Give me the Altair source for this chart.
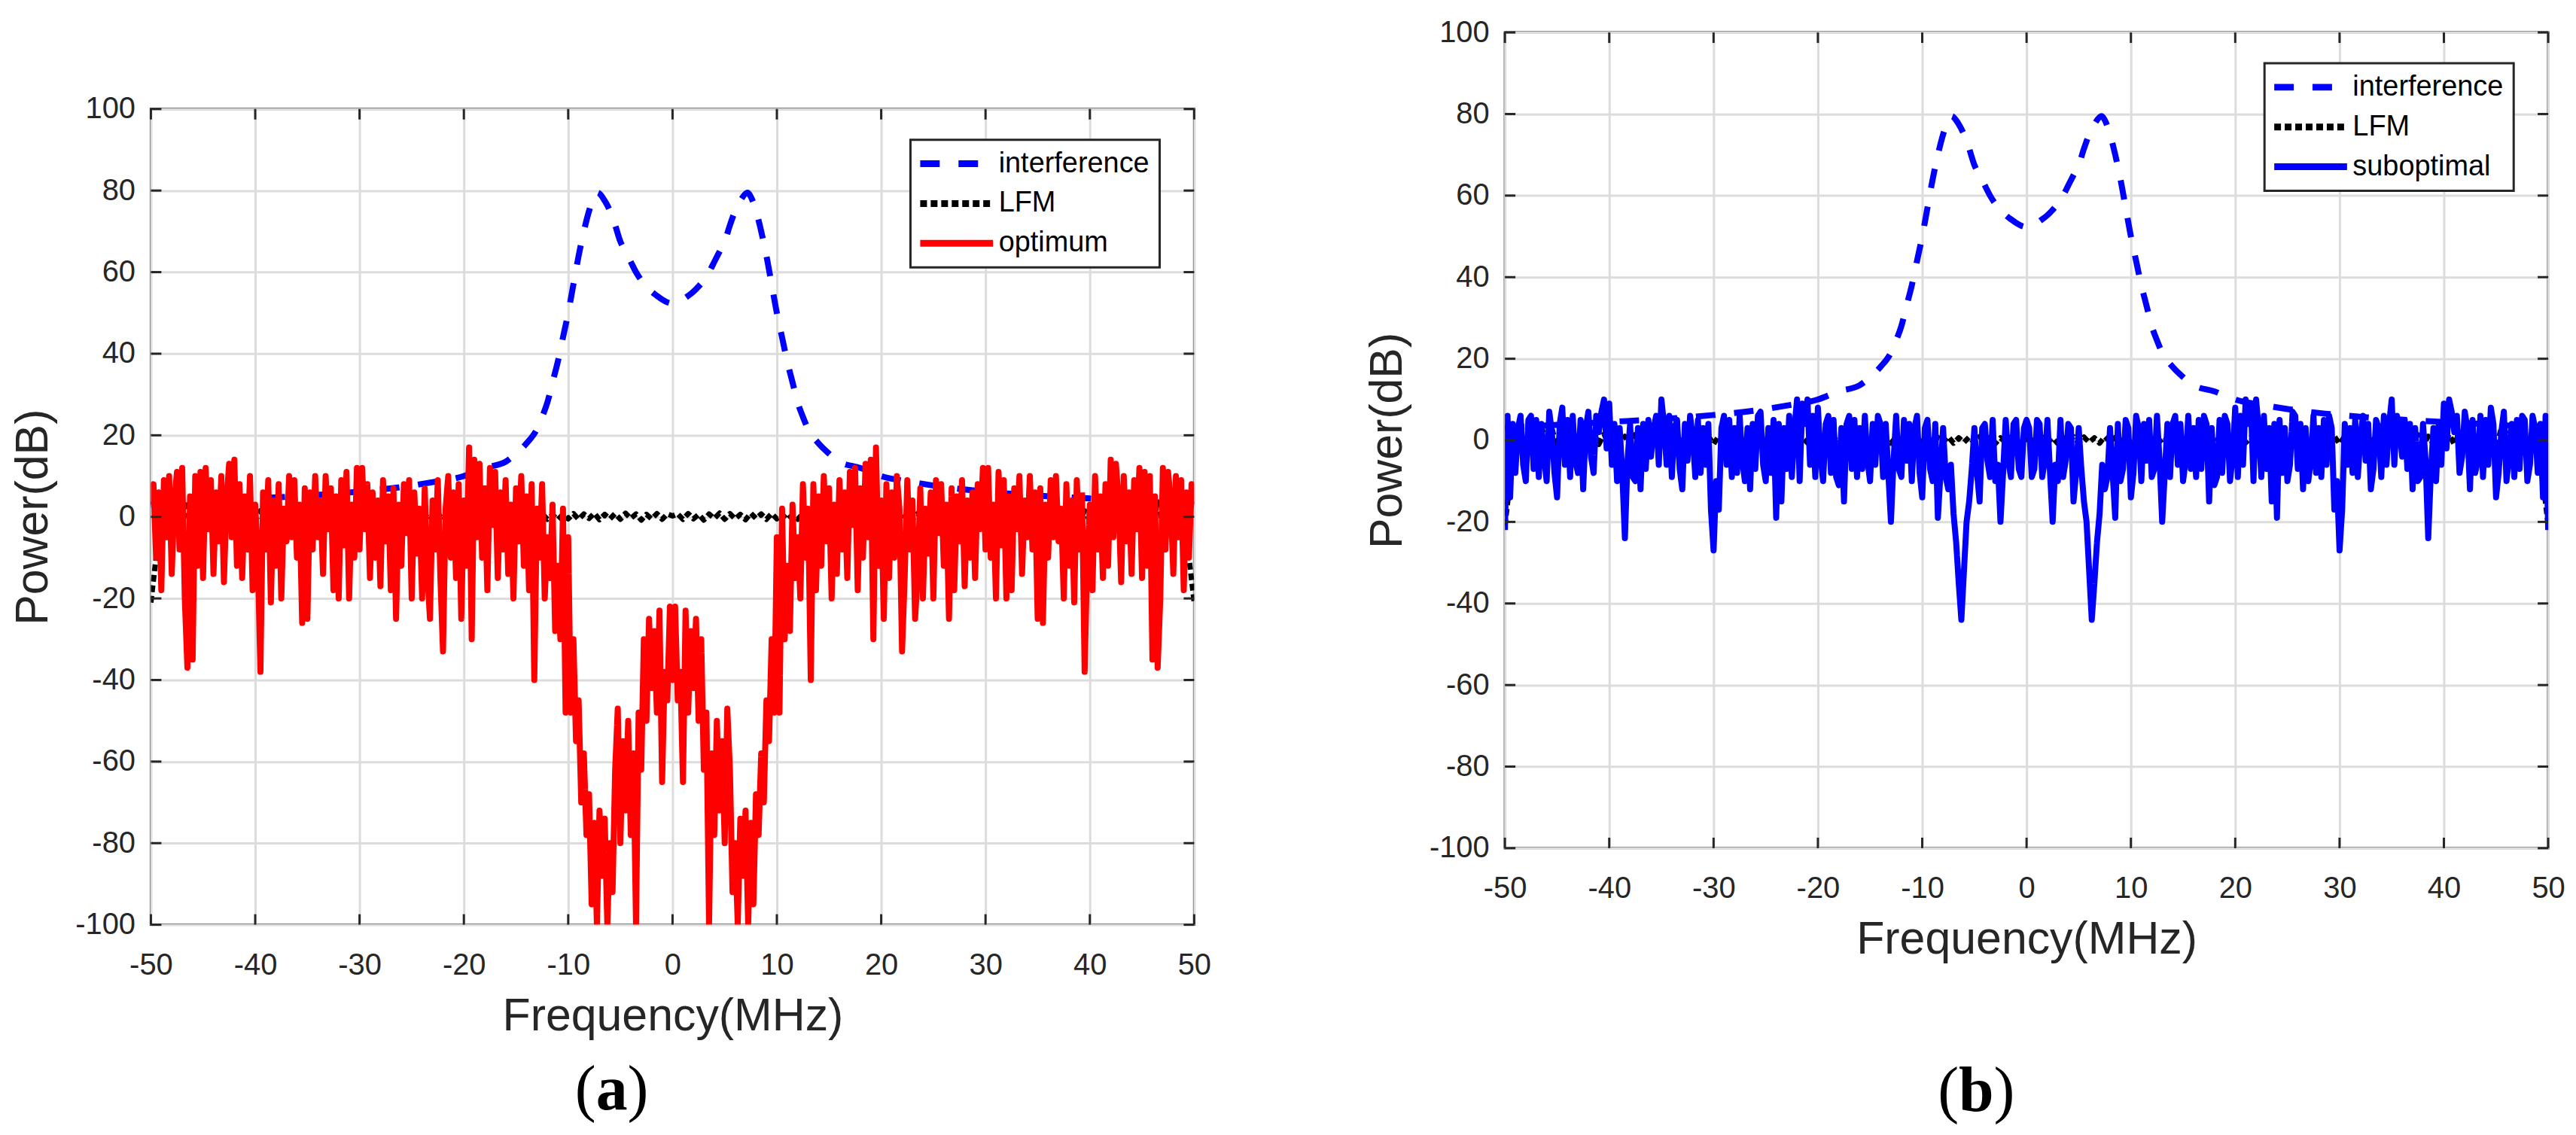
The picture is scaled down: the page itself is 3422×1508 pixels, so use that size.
import altair as alt
import pandas as pd

W, H = 1390, 1087
AX = "#262626"
GRID = "#dcdcdc"
SANS = "Liberation Sans"
SERIF = "Liberation Serif"
NEG = "datum.value < 0 ? '-' + (-datum.value) : '' + datum.value"

x_ticks = [-50, -40, -30, -20, -10, 0, 10, 20, 30, 40, 50]
y_ticks = [-100, -80, -60, -40, -20, 0, 20, 40, 60, 80, 100]

names_a = ["interference", "LFM", "optimum"]
names_b = ["interference", "LFM", "suboptimal"]
colors_a = ["#0000ff", "#000000", "#ff0000"]
colors_b = ["#0000ff", "#000000", "#0000ff"]
dashes = [[26, 25], [9, 5], [1, 0]]

# interference (smooth two-peak curve), read at irregular frequencies
interference_freq = [-50, -45, -40, -35, -30, -26, -23, -20, -18, -16,
                     -15, -14, -13, -12.5, -12, -11.5, -11, -10.5, -10, -9.5,
                     -9, -8.5, -8, -7.5, -7.2, -6.5, -6, -5.5, -5, -4.5,
                     -4, -3.5, -3, -2.5, -2, -1.5, -1, -0.5, 0,
                     0.5, 1, 1.5, 2, 2.5, 3, 3.5, 4,
                     4.5, 5, 5.5, 6, 6.5, 7.2, 7.5, 8, 8.5, 9,
                     9.5, 10, 10.5, 11, 11.5, 12, 12.5, 13, 14, 15,
                     16, 18, 20, 23, 26, 30, 35, 40, 45, 50]
interference_db = [3.0, 3.8, 4.5, 5.2, 6.2, 7.3, 8.5, 10.0, 12.0, 13.5,
                   15.5, 18.0, 21.5, 24.5, 28.0, 33.0, 38.0, 44.0, 50.0, 57.0,
                   64.0, 70.0, 75.0, 78.5, 79.5, 77.5, 75.0, 71.5, 67.5, 65.0,
                   62.5, 60.0, 58.0, 56.5, 55.2, 54.2, 53.3, 52.6, 52.3,
                   52.6, 53.3, 54.2, 55.2, 56.5, 58.0, 60.0, 62.5,
                   65.0, 67.5, 71.5, 75.0, 77.5, 79.5, 78.5, 75.0, 70.0, 64.0,
                   57.0, 50.0, 44.0, 38.0, 33.0, 28.0, 24.5, 21.5, 18.0, 15.5,
                   13.5, 12.0, 10.0, 8.5, 7.3, 6.2, 5.2, 4.5, 3.8, 3.0]

# LFM spectrum, every 0.5 MHz from -50 to 50
lfm_freq = [round(-50 + 0.5 * i, 2) for i in range(201)]
lfm_db = [
    -21, -10, -4, 2, -3, 3, -2, 4, -3, 3, -2, 3, -2, 2.5, -1.5, 2, -1.5, 2, -1, 1.5,
    -1, 1.5, -1, 1, -1.2, 1.4, -0.8, 1, -1, 1.2, -0.9, 1, -1, 1.1, -0.8, 1, -1, 0.9, -0.7, 1,
    -0.9, 1, -0.8, 0.9, -0.7, 1, -0.9, 0.8, -0.6, 0.9, -0.8, 1, -0.7, 0.8, -0.6, 0.9, -0.8, 0.7, -0.6, 0.8,
    -0.7, 0.9, -0.6, 0.8, -0.7, 0.6, -0.8, 0.7, -0.5, 0.8, -0.6, 0.7, -0.5, 0.6, -0.7, 0.8, -0.6, 0.5, -0.7, 0.6,
    -0.5, 0.8, -0.6, 0.7, -0.4, 0.9, -0.7, 0.6, -0.5, 0.8, -0.6, 0.9, -0.4, 0.7, -0.8, 0.6, -0.5, 0.8, -0.6, 0.7,
    0.2,
    0.7, -0.6, 0.8, -0.5, 0.6, -0.8, 0.7, -0.4, 0.9, -0.6, 0.8, -0.5, 0.6, -0.7, 0.9, -0.4, 0.7, -0.6, 0.8, -0.5,
    0.6, -0.7, 0.5, -0.6, 0.8, -0.7, 0.6, -0.5, 0.7, -0.6, 0.8, -0.5, 0.7, -0.8, 0.6, -0.7, 0.8, -0.6, 0.9, -0.7,
    0.8, -0.6, 0.7, -0.8, 0.9, -0.6, 0.8, -0.7, 1, -0.8, 0.9, -0.6, 0.8, -0.9, 1, -0.7, 0.9, -0.8, 1, -0.9,
    1, -0.7, 0.9, -1, 1, -0.8, 1.1, -1, 1, -0.9, 1.2, -1, 1, -0.8, 1.4, -1.2, 1, -1, 1.5, -1,
    1.5, -1, 2, -1.5, 2, -1.5, 2.5, -2, 3, -2, 3, -3, 4, -2, 3, -3, 2, -4, -10, -21,
]

# filtered outputs, every 0.25 MHz from -50 to 50
grid_freq = [round(-50 + 0.25 * i, 2) for i in range(401)]
optimum_db = [
    3, 8, -10, 6, -18, 9, -5, 10, -14, 4, 11, -8, 12, -20, -37, 5, -35, 10, -12, 11,
    -15, 12, -3, 9, -14, 6, -6, 10, -16, 4, 13, -5, 14, -12, 8, -15, 5, -8, 10, -18,
    3, -10, -38, 6, -8, 9, -21, 4, -12, 8, -20, 2, -6, 10, -5, 9, -10, 3, -26, 7,
    -25, 6, -8, 10, -5, 4, -14, 10, -3, 7, -18, 5, -20, 9, -7, 11, -20, 3, -10, 12,
    -8, 12, -3, 8, -15, 6, -10, 4, -17, 9, -6, 5, -18, 7, -25, 3, -12, 8, -4, 9,
    -20, 6, -9, 2, -20, 7, -14, -25, 4, -8, 9, -15, -33, 2, 10, -10, 6, -15, 8, -25,
    4, -12, 17, -30, 14, -5, 13, -10, 7, -18, 12, -2, 11, -15, 6, -8, 9, -14, 3, -20,
    7, -6, 10, -12, 5, -18, 8, -40, 2, -10, 8, -20, -5, -15, 3, -28, -12, -30, 2, -48,
    -5, -48, -30, -55, -45, -70, -58, -78, -68, -95, -75, -100, -72, -88, -74, -100, -80, -92, -62, -47,
    -80, -55, -72, -50, -78, -58, -100, -48, -62, -30, -50, -25, -42, -28, -48, -23, -65, -38, -45, -22,
    -40,
    -22, -45, -38, -65, -23, -48, -28, -42, -25, -50, -30, -62, -48, -100, -58, -78, -50, -72, -55, -80,
    -47, -62, -92, -80, -100, -74, -88, -72, -100, -75, -95, -68, -78, -58, -70, -45, -55, -30, -48, -5,
    -48, 2, -30, -12, -28, 3, -15, -5, -20, 8, -10, 2, -40, 8, -18, 5, -12, 10, -6, 7,
    -20, 3, -14, 9, -8, 6, -15, 11, -2, 12, -18, 7, -10, 13, -5, 14, -30, 17, -12, 4,
    -25, 8, -15, 6, -10, 10, 2, -33, -15, 9, -8, 4, -25, -14, 7, -20, 2, -9, 6, -20,
    9, -4, 8, -12, 3, -25, 7, -18, 5, -6, 9, -17, 4, -10, 6, -15, 8, -3, 12, -8,
    12, -10, 3, -20, 11, -7, 9, -20, 5, -18, 7, -3, 10, -14, 4, -5, 10, -8, 6, -25,
    7, -26, 3, -10, 9, -5, 10, -6, 2, -20, 8, -12, 4, -21, 9, -8, 6, -38, -10, 3,
    -18, 10, -8, 5, -15, 8, -12, 14, -5, 13, 4, -16, 10, -6, 6, -14, 9, -3, 12, -15,
    11, -12, 10, -35, 5, -37, -20, 12, -8, 11, 4, -14, 10, -5, 9, -18, 6, -10, 8, 3,
]
suboptimal_db = [
    -22, 6, -14, 4, -8, 3, 6, -6, -10, 5, 6, -7, 5, -9, 4, -4, -10, 7, 2, -8,
    -14, 4, 8, -6, 5, -9, 6, -5, -8, 5, -12, 3, 7, -4, -8, 6, 2, 7, 10, -2,
    9, -6, 4, -10, 3, -8, -24, -5, 4, -9, -10, 3, -12, 4, -7, 5, -4, 3, 6, -6,
    10, 4, -6, 6, -9, 3, 5, -7, -12, 4, -5, 6, 1, -9, 5, -8, 3, -6, 4, -17,
    -27, -10, -17, 3, 6, -6, 5, -9, 3, -8, 6, -5, -10, 3, -12, 4, -7, 6, 7, -6,
    -10, 3, -8, 5, -19, 4, -15, 3, -7, 6, -9, 3, 10, -10, 9, 4, 10, -6, 6, -9,
    8, -4, -10, 4, 6, -8, 5, -9, -11, 3, -15, 4, 6, -7, 5, -9, 3, -7, 6, -5,
    -10, 4, -6, 6, 4, -9, 4, -8, -20, -5, 6, -7, -9, 5, -5, 4, -10, 3, 6, -8,
    -14, 3, 5, -7, -10, 4, -19, -8, 3, -9, -12, -6, -18, -25, -35, -44, -32, -20, -15, -7,
    3, -8, -15, 3, 4, -5, -9, 5, -10, -6, -20, -8, 5, -5, -9, 4, 5, -7, -9, 3,
    5,
    3, -9, -7, 5, 4, -9, -5, 5, -8, -20, -6, -10, 5, -9, -5, 4, 3, -15, -8, 3,
    -7, -15, -20, -32, -44, -35, -25, -18, -6, -12, -9, 3, -8, -19, 4, -10, -7, 5, 3, -14,
    -8, 6, 3, -10, 4, -5, 5, -9, -7, 6, -5, -20, -8, 4, -9, 4, 6, -6, 4, -10,
    -5, 6, -7, 3, -9, 5, -7, 6, 4, -15, 3, -11, -9, 5, -8, 6, 4, -10, -4, 8,
    -9, 6, -6, 10, 4, 9, -10, 10, 3, -9, 6, -7, 3, -15, 4, -19, 5, -8, 3, -10,
    -6, 7, 6, -7, 4, -12, 3, -10, -5, 6, -8, 3, -9, 5, -6, 6, 3, -17, -10, -27,
    -17, 4, -6, 3, -8, 5, -9, 1, 6, -5, 4, -12, -7, 5, 3, -9, 6, -6, 4, 10,
    -6, 6, 3, -4, 5, -7, 4, -12, 3, -10, -9, 4, -5, -24, -8, 3, -10, 4, -6, 9,
    -2, 10, 7, 2, 6, -8, -4, 7, 3, -12, 5, -8, -5, 6, -9, 5, -6, 8, 4, -14,
    -8, 2, 7, -10, -4, 4, -9, 5, -7, 6, 5, -10, -6, 6, 3, -8, 4, -14, 6, -22,
]


def make_panel(names, colors, main_db, main_width, letter, letter_adv, cap_cx, cap_y):
    xs = alt.Scale(domain=[-50, 50], nice=False, zero=False)
    ys = alt.Scale(domain=[-100, 100], nice=False, zero=False)
    x_axis = alt.Axis(values=x_ticks, title="Frequency(MHz)", titleFont=SANS,
                      titleFontSize=61, titleFontWeight="normal", titleColor=AX,
                      titlePadding=18, labelFont=SANS, labelFontSize=40,
                      labelColor=AX, labelPadding=34, labelFlush=False,
                      labelOverlap=False, labelExpr=NEG, ticks=False, tickSize=0,
                      domain=False, grid=True, gridColor=GRID, gridWidth=3)
    y_axis = alt.Axis(values=y_ticks, title="Power(dB)", titleFont=SANS,
                      titleFontSize=61, titleFontWeight="normal", titleColor=AX,
                      titlePadding=24, labelFont=SANS, labelFontSize=40,
                      labelColor=AX, labelPadding=21, labelFlush=False,
                      labelOverlap=False, labelExpr=NEG, ticks=False, tickSize=0,
                      domain=False, grid=True, gridColor=GRID, gridWidth=3)
    xenc = alt.X("f:Q", scale=xs, axis=x_axis)
    yenc = alt.Y("db:Q", scale=ys, axis=y_axis)
    leg = alt.Legend(title=None, orient="none", legendX=1012, legendY=41,
                     fillColor="white", strokeColor=AX, padding=13,
                     labelFont=SANS, labelFontSize=38, labelColor="black",
                     labelOffset=37, labelLimit=600, rowPadding=15,
                     symbolType="M-4.85,0H4.85", symbolSize=400,
                     symbolStrokeWidth=9, symbolOffset=29.5, cornerRadius=0)
    cenc = alt.Color("series:N", scale=alt.Scale(domain=names, range=colors), legend=leg)
    denc = alt.StrokeDash("series:N", scale=alt.Scale(domain=names, range=dashes), legend=leg)

    df_if = pd.DataFrame({"f": interference_freq, "db": interference_db, "series": names[0]})
    df_lfm = pd.DataFrame({"f": lfm_freq, "db": lfm_db, "series": names[1]})
    df_main = pd.DataFrame({"f": grid_freq, "db": main_db, "series": names[2]})

    l_if = alt.Chart(df_if).mark_line(strokeWidth=8, strokeCap="butt", interpolate="monotone", clip=True).encode(
        x=xenc, y=yenc, color=cenc, strokeDash=denc)
    l_lfm = alt.Chart(df_lfm).mark_line(strokeWidth=7, strokeCap="butt", strokeJoin="round", clip=True).encode(
        x=xenc, y=yenc, color=cenc, strokeDash=denc)
    l_main = alt.Chart(df_main).mark_line(strokeWidth=main_width, strokeJoin="round", clip=True).encode(
        x=xenc, y=yenc, color=cenc, strokeDash=denc)

    df_xt = pd.DataFrame({"f": x_ticks})
    df_yt = pd.DataFrame({"db": y_ticks})
    tick = dict(color=AX, strokeWidth=3)
    t_bottom = alt.Chart(df_xt).mark_rule(**tick).encode(x=xenc, y=alt.value(H), y2=alt.value(H - 14))
    t_top = alt.Chart(df_xt).mark_rule(**tick).encode(x=xenc, y=alt.value(0), y2=alt.value(14))
    t_left = alt.Chart(df_yt).mark_rule(**tick).encode(y=yenc, x=alt.value(0), x2=alt.value(14))
    t_right = alt.Chart(df_yt).mark_rule(**tick).encode(y=yenc, x=alt.value(W - 14), x2=alt.value(W))

    one = pd.DataFrame({"k": [0]})
    fs = 84
    paren_adv = 0.333 * fs
    shift = letter_adv * fs / 2 + paren_adv / 2
    cap_l = alt.Chart(one).mark_text(text="(", font=SERIF, fontSize=fs, align="center",
                                     baseline="alphabetic", color="black").encode(
        x=alt.value(cap_cx - shift), y=alt.value(cap_y))
    cap_m = alt.Chart(one).mark_text(text=letter, font=SERIF, fontSize=fs, fontWeight="bold",
                                     align="center", baseline="alphabetic", color="black").encode(
        x=alt.value(cap_cx), y=alt.value(cap_y))
    cap_r = alt.Chart(one).mark_text(text=")", font=SERIF, fontSize=fs, align="center",
                                     baseline="alphabetic", color="black").encode(
        x=alt.value(cap_cx + shift), y=alt.value(cap_y))

    return alt.layer(l_if, l_lfm, l_main, t_bottom, t_top, t_left, t_right,
                     cap_l, cap_m, cap_r).properties(width=W, height=H)


panel_a = make_panel(names_a, colors_a, optimum_db, 8, "a", 0.5, 614, 1333)
panel_b = make_panel(names_b, colors_b, suboptimal_db, 8, "b", 0.556, 628, 1437)

spacer = alt.Chart(pd.DataFrame({"k": [0]})).mark_point(opacity=0).properties(
    width=W, height=79, view=alt.ViewBackground(stroke="transparent"))

left_col = alt.vconcat(spacer, panel_a, spacing=0).resolve_scale(
    color="independent", strokeDash="independent").resolve_legend(
    color="independent", strokeDash="independent")

chart = alt.hconcat(left_col, panel_b, spacing=201).resolve_scale(
    color="independent", strokeDash="independent").resolve_legend(
    color="independent", strokeDash="independent").properties(
    padding={"left": 4, "top": 11, "right": 5, "bottom": 5},
    background="white",
).configure_view(stroke=AX, strokeWidth=3).configure_legend(strokeWidth=3)

chart.save("out.html", embed_options={"renderer": "svg", "actions": False})
